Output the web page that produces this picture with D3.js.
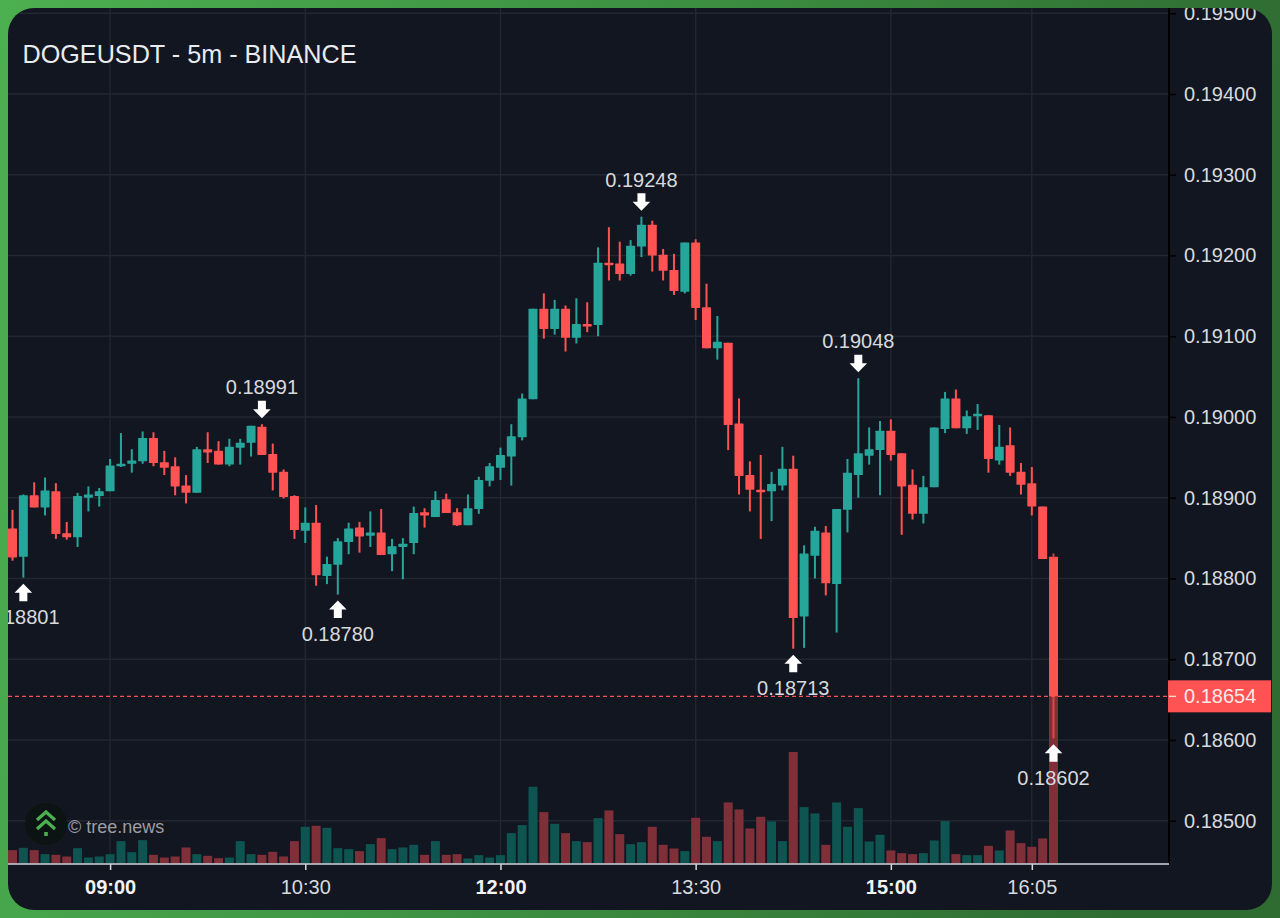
<!DOCTYPE html>
<html><head><meta charset="utf-8">
<script src="https://d3js.org/d3.v7.min.js"></script>
<style>html,body{margin:0;padding:0;background:#3a8a3e;overflow:hidden}svg{display:block}</style>
</head><body><svg id="c" width="1280" height="918"></svg>
<script>
const title = "DOGEUSDT - 5m - BINANCE";
const watermark = "© tree.news";
const opens = [0.18862,0.18827,0.18903,0.18888,0.18908,0.18856,0.18851,0.18900,0.18902,0.18908,0.18939,0.18942,0.18945,0.18974,0.18944,0.18939,0.18915,0.18906,0.18960,0.18958,0.18941,0.18962,0.18968,0.18988,0.18954,0.18932,0.18902,0.18859,0.18869,0.18803,0.18817,0.18845,0.18863,0.18853,0.18857,0.18830,0.18839,0.18844,0.18882,0.18876,0.18898,0.18882,0.18866,0.18886,0.18921,0.18937,0.18951,0.18975,0.19022,0.19134,0.19109,0.19134,0.19098,0.19115,0.19114,0.19191,0.19190,0.19177,0.19211,0.19238,0.19201,0.19182,0.19155,0.19216,0.19136,0.19085,0.19092,0.18992,0.18928,0.18910,0.18908,0.18915,0.18936,0.18753,0.18828,0.18857,0.18793,0.18885,0.18928,0.18952,0.18959,0.18983,0.18955,0.18916,0.18880,0.18913,0.18985,0.19023,0.18986,0.19002,0.19002,0.18946,0.18965,0.18932,0.18918,0.18889,0.18827];
const highs = [0.18885,0.18904,0.18919,0.18925,0.18918,0.18870,0.18906,0.18914,0.18912,0.18948,0.18980,0.18960,0.18982,0.18981,0.18958,0.18950,0.18928,0.18963,0.18981,0.18970,0.18973,0.18973,0.18989,0.18991,0.18967,0.18935,0.18903,0.18888,0.18891,0.18827,0.18850,0.18869,0.18870,0.18883,0.18886,0.18849,0.18850,0.18889,0.18887,0.18908,0.18905,0.18887,0.18904,0.18926,0.18943,0.18962,0.18991,0.19029,0.19134,0.19153,0.19145,0.19138,0.19147,0.19142,0.19210,0.19235,0.19217,0.19219,0.19248,0.19243,0.19208,0.19202,0.19216,0.19220,0.19165,0.19125,0.19092,0.19023,0.18945,0.18953,0.18932,0.18963,0.18952,0.18841,0.18864,0.18865,0.18886,0.18948,0.19048,0.18987,0.18995,0.18997,0.18955,0.18935,0.18927,0.18987,0.19031,0.19034,0.19008,0.19016,0.19002,0.18990,0.18987,0.18943,0.18938,0.18889,0.18831];
const lows = [0.18822,0.18801,0.18888,0.18878,0.18849,0.18848,0.18839,0.18883,0.18889,0.18908,0.18938,0.18931,0.18942,0.18939,0.18928,0.18903,0.18893,0.18906,0.18943,0.18941,0.18939,0.18941,0.18951,0.18953,0.18909,0.18899,0.18849,0.18844,0.18791,0.18793,0.18780,0.18830,0.18832,0.18839,0.18829,0.18809,0.18799,0.18830,0.18863,0.18876,0.18881,0.18865,0.18866,0.18880,0.18914,0.18922,0.18915,0.18971,0.19022,0.19097,0.19102,0.19081,0.19091,0.19105,0.19100,0.19169,0.19169,0.19175,0.19198,0.19180,0.19169,0.19151,0.19153,0.19120,0.19085,0.19071,0.18959,0.18904,0.18883,0.18849,0.18871,0.18909,0.18713,0.18714,0.18800,0.18779,0.18733,0.18857,0.18900,0.18941,0.18903,0.18946,0.18854,0.18873,0.18868,0.18913,0.18980,0.18986,0.18979,0.18984,0.18931,0.18941,0.18927,0.18904,0.18878,0.18824,0.18602];
const closes = [0.18826,0.18903,0.18888,0.18909,0.18855,0.18851,0.18902,0.18904,0.18908,0.18940,0.18942,0.18946,0.18974,0.18943,0.18937,0.18914,0.18906,0.18960,0.18956,0.18941,0.18963,0.18968,0.18989,0.18953,0.18931,0.18901,0.18860,0.18869,0.18804,0.18818,0.18846,0.18862,0.18852,0.18857,0.18829,0.18840,0.18843,0.18881,0.18878,0.18897,0.18881,0.18866,0.18887,0.18922,0.18939,0.18953,0.18976,0.19023,0.19134,0.19109,0.19134,0.19098,0.19115,0.19113,0.19191,0.19189,0.19177,0.19212,0.19238,0.19200,0.19181,0.19156,0.19216,0.19135,0.19085,0.19093,0.18990,0.18927,0.18910,0.18908,0.18917,0.18936,0.18751,0.18831,0.18859,0.18794,0.18886,0.18931,0.18955,0.18960,0.18983,0.18953,0.18914,0.18880,0.18913,0.18987,0.19023,0.18986,0.19001,0.19004,0.18948,0.18963,0.18931,0.18916,0.18889,0.18824,0.18654];
const volumes = [40,47,40,28,26,21,46,18,21,28,67,34,70,26,18,21,48,28,23,16,18,67,28,26,35,21,67,110,113,107,46,43,37,58,76,43,48,56,26,67,26,28,15,25,18,25,91,115,230,154,119,91,67,64,136,159,88,58,64,110,56,45,37,137,80,67,183,162,105,140,126,67,334,169,150,56,183,110,166,66,86,39,31,28,31,69,127,28,25,25,53,39,99,61,50,75,520];
const priceTicks = [0.185,0.186,0.187,0.188,0.189,0.190,0.191,0.192,0.193,0.194,0.195];
const timeTickIndex = [9,27,45,63,81,94];
const timeTickLabels = ["09:00","10:30","12:00","13:30","15:00","16:05"];
const timeTickBold = [true,false,true,false,true,false];
const markerIndex = [1,23,30,58,72,78,96];
const markerPrice = [0.18801,0.18991,0.18780,0.19248,0.18713,0.19048,0.18602];
const markerDir = ["up","down","up","down","up","down","up"];
const lastPrice = 0.18654;

const FONT = "'Liberation Sans', Arial, sans-serif";
const FS = 20;
const UP="#26a69a", DOWN="#ff5252", TXT="#d8dade", BG="#121620", GRID="#232732";
const svg = d3.select("#c");
const defs = svg.append("defs");
const lg = defs.append("linearGradient").attr("id","bd").attr("x1",0).attr("x2",1).attr("y1",0).attr("y2",0.15);
lg.append("stop").attr("offset","0").attr("stop-color","#4caf50");
lg.append("stop").attr("offset","0.5").attr("stop-color","#3d9142");
lg.append("stop").attr("offset","1").attr("stop-color","#2f6c32");
defs.append("clipPath").attr("id","panel").append("rect").attr("x",8).attr("y",8).attr("width",1264).attr("height",902).attr("rx",26);
defs.append("clipPath").attr("id","plot").append("rect").attr("x",8).attr("y",8).attr("width",1161).attr("height",856);

svg.append("rect").attr("width",1280).attr("height",918).attr("fill","url(#bd)");
svg.append("rect").attr("x",8).attr("y",8).attr("width",1264).attr("height",902).attr("rx",26).attr("fill",BG);

const x = d3.scaleLinear().domain([0,96]).range([12.5,1053.5]);
const y = d3.scaleLinear().domain([0.185,0.195]).range([820.7,13.2]);
const yVol = d3.scaleLinear().domain([0,334]).range([863.5,752]);

const root = svg.append("g").attr("clip-path","url(#panel)");
const plot = root.append("g").attr("clip-path","url(#plot)");

// grid
plot.append("g").selectAll("line").data(priceTicks).join("line")
  .attr("x1",8).attr("x2",1169).attr("y1",d=>y(d)).attr("y2",d=>y(d)).attr("stroke",GRID).attr("stroke-width",1.4);
plot.append("g").selectAll("line").data(timeTickIndex).join("line")
  .attr("y1",8).attr("y2",864).attr("x1",d=>x(d)).attr("x2",d=>x(d)).attr("stroke",GRID).attr("stroke-width",1.4);

const idx = d3.range(opens.length);
const isUp = i => closes[i] >= opens[i];
const bw = 9, ww = 2;

// volume
plot.append("g").selectAll("rect").data(idx).join("rect")
  .attr("x",i=>x(i)-bw/2).attr("width",bw)
  .attr("y",i=>yVol(volumes[i])).attr("height",i=>yVol(0)-yVol(volumes[i]))
  .attr("fill",i=>isUp(i)?"#0e5450":"#7f2f38");

// last-price line
plot.append("line").attr("x1",8).attr("x2",1169).attr("y1",y(lastPrice)).attr("y2",y(lastPrice))
  .attr("stroke",DOWN).attr("stroke-width",1.4).attr("stroke-dasharray","4 3");

// candles
plot.append("g").selectAll("rect").data(idx).join("rect")
  .attr("x",i=>x(i)-ww/2).attr("width",ww)
  .attr("y",i=>y(highs[i])).attr("height",i=>y(lows[i])-y(highs[i]))
  .attr("fill",i=>isUp(i)?UP:DOWN).attr("fill-opacity",i=>i===96?0.72:1);
plot.append("g").selectAll("rect").data(idx).join("rect")
  .attr("x",i=>x(i)-bw/2).attr("width",bw).attr("rx",0.6)
  .attr("y",i=>y(Math.max(opens[i],closes[i])))
  .attr("height",i=>Math.max(2.5,Math.abs(y(opens[i])-y(closes[i]))))
  .attr("fill",i=>isUp(i)?UP:DOWN);

// markers
const mk = plot.append("g").selectAll("g").data(markerIndex).join("g")
  .attr("transform",(d,k)=>`translate(${x(d)},${y(markerPrice[k])})`);
mk.append("path").attr("fill","#fff")
  .attr("d",(d,k)=>markerDir[k]==="up"
    ? "M0,6 L8.8,15 L4,15 L4,23.5 L-4,23.5 L-4,15 L-8.8,15 Z"
    : "M0,-6 L8.8,-15 L4,-15 L4,-23.5 L-4,-23.5 L-4,-15 L-8.8,-15 Z");
mk.append("text").attr("text-anchor","middle").attr("font-family",FONT).attr("font-size",FS).attr("fill",TXT)
  .attr("y",(d,k)=>markerDir[k]==="up"?46.5:-30)
  .text((d,k)=>markerPrice[k].toFixed(5));

// axes
const axR = root.append("g").attr("transform","translate(1169,0)")
  .call(d3.axisRight(y).tickValues(priceTicks).tickFormat(d3.format(".5f")).tickSize(7).tickPadding(8));
axR.select(".domain").remove();
axR.append("line").attr("x1",0).attr("x2",0).attr("y1",8).attr("y2",864).attr("stroke","#000").attr("stroke-width",2);
axR.selectAll(".tick line").attr("stroke","#000").attr("stroke-width",1.5);
axR.selectAll(".tick text").attr("font-family",FONT).attr("font-size",FS).attr("fill",TXT);

const axB = root.append("g").attr("transform","translate(0,864)")
  .call(d3.axisBottom(x).tickValues(timeTickIndex).tickFormat((d,k)=>timeTickLabels[k]).tickSize(6).tickPadding(10));
axB.select(".domain").remove();
axB.append("line").attr("x1",8).attr("x2",1169).attr("y1",0).attr("y2",0).attr("stroke","#d4d6dc").attr("stroke-width",1.6);
axB.selectAll(".tick line").attr("stroke","#d4d6dc").attr("stroke-width",1.5);
axB.selectAll(".tick text").attr("font-family",FONT).attr("font-size",FS).attr("fill",(d,k)=>timeTickBold[k]?"#f2f3f5":TXT)
  .attr("font-weight",(d,k)=>timeTickBold[k]?"bold":"normal");

// last price tag
const ty = y(lastPrice);
root.append("rect").attr("x",1168).attr("y",ty-16).attr("width",103).attr("height",32).attr("fill",DOWN);
root.append("line").attr("x1",1169).attr("x2",1176).attr("y1",ty).attr("y2",ty).attr("stroke","#f3d6d6").attr("stroke-width",1.4);
root.append("text").attr("x",1184).attr("y",ty).attr("dy","0.34em").attr("font-family",FONT).attr("font-size",FS).attr("fill","#fbe9e9").text(lastPrice.toFixed(5));

// title
root.append("text").attr("x",22.5).attr("y",63).attr("font-family",FONT).attr("font-size",25.2).attr("fill","#e9ebef").text(title);

// watermark
const wm = root.append("g").attr("transform","translate(46,826)");
wm.append("circle").attr("r",21).attr("cy",-2).attr("fill","#0b1412");
wm.append("path").attr("d","M-9,-6 L0,-14 L9,-6 M-9,3 L0,-5 L9,3").attr("fill","none").attr("stroke","#4caf50").attr("stroke-width",3.2);
wm.append("rect").attr("x",-1.8).attr("y",6).attr("width",3.6).attr("height",4).attr("fill","#4caf50");
root.append("text").attr("x",68).attr("y",832.5).attr("font-family",FONT).attr("font-size",18).attr("fill","#9b9da3").text(watermark);
</script></body></html>
